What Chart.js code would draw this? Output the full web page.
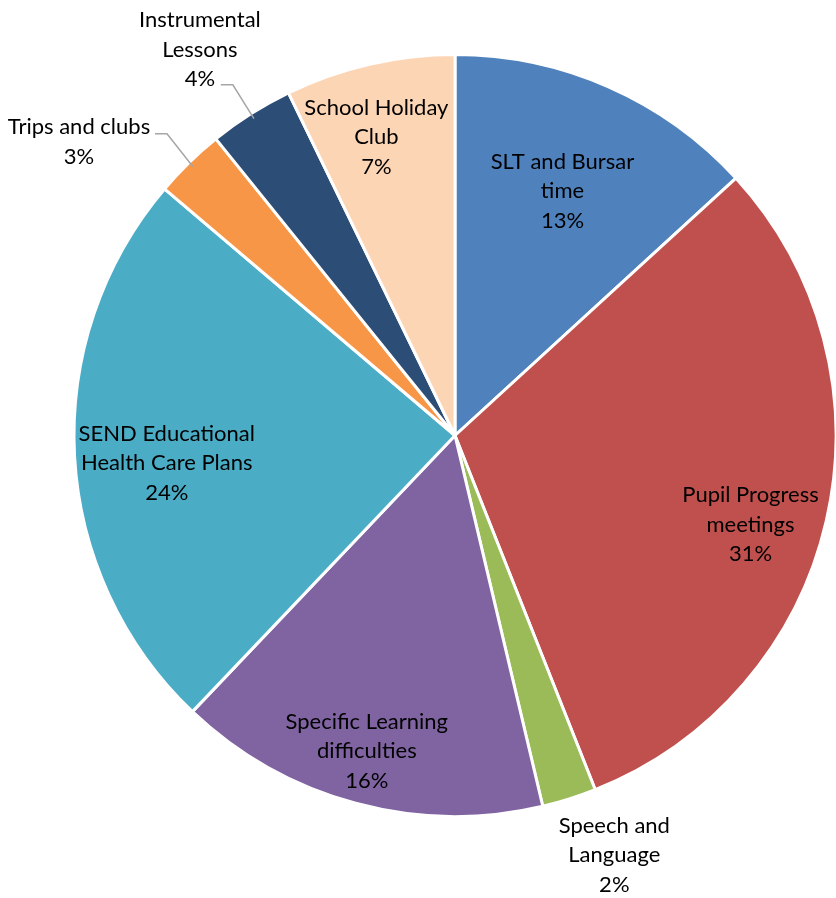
<!DOCTYPE html>
<html>
<head>
<meta charset="utf-8">
<script src="https://cdn.jsdelivr.net/npm/chart.js@4.4.0/dist/chart.umd.min.js"></script>
<style>
  html, body { margin: 0; padding: 0; background: #fff; }
  #wrap { width: 836px; height: 898px; }
</style>
</head>
<body>
<div id="wrap"><canvas id="pieChart"></canvas></div>
<script>
// categorias (quebradas em linhas como no original)
const categorias = [
  ['SLT and Bursar', 'time'],
  ['Pupil Progress', 'meetings'],
  ['Speech and', 'Language'],
  ['Specific Learning', 'difficulties'],
  ['SEND Educational', 'Health Care Plans'],
  ['Trips and clubs'],
  ['Instrumental', 'Lessons'],
  ['School Holiday', 'Club']
];
// percentuais
const valores = [13.2, 30.8, 2.3, 15.8, 24.1, 3.0, 3.6, 7.2];
const cores = ['#4F81BD', '#C0504D', '#9BBB59', '#8064A2', '#4BACC6', '#F79646', '#2C4D75', '#FCD5B5'];

// onde cada rótulo fica (r = fração do raio, ang = ajuste em graus)
const posRotulos = [
  { r: 0.70, ang: 0 },
  { r: 0.81, ang: 3.8 },
  { fora: true, dx: 45, dy: 56 },
  { r: 0.86, ang: 0.5 },
  { r: 0.76, ang: -2.4 },
  { fora: true, dx: -110, dy: -21, linha: [-22, -29, -34, -29] },
  { fora: true, dx: -51, dy: -64, linha: [-18, -29, -30, -29] },
  { r: 0.81, ang: -1.8 }
];

const total = valores.reduce((a, b) => a + b, 0);

const rotulosPlugin = {
  id: 'rotulos',
  afterDatasetsDraw(chart) {
    const ctx = chart.ctx;
    const arcs = chart.getDatasetMeta(0).data;
    ctx.save();
    ctx.font = '22px Lato';
    ctx.fillStyle = '#000';
    ctx.textAlign = 'center';
    ctx.textBaseline = 'middle';
    const lh = 29.5;

    arcs.forEach((arc, i) => {
      const p = posRotulos[i];
      const R = arc.outerRadius;
      const meio = (arc.startAngle + arc.endAngle) / 2;
      let cx, cy;
      if (p.fora) {
        const ex = arc.x + Math.cos(meio) * R;
        const ey = arc.y + Math.sin(meio) * R;
        cx = ex + p.dx;
        cy = ey + p.dy;
        if (p.linha) {
          ctx.beginPath();
          ctx.strokeStyle = '#A6A6A6';
          ctx.lineWidth = 1.5;
          ctx.moveTo(arc.x + Math.cos(meio) * R * 0.985, arc.y + Math.sin(meio) * R * 0.985);
          ctx.lineTo(ex + p.linha[0], ey + p.linha[1]);
          ctx.lineTo(ex + p.linha[2], ey + p.linha[3]);
          ctx.stroke();
        }
      } else {
        const a = meio + p.ang * Math.PI / 180;
        cx = arc.x + Math.cos(a) * R * p.r;
        cy = arc.y + Math.sin(a) * R * p.r;
      }
      const linhas = categorias[i].concat([Math.round(valores[i] / total * 100) + '%']);
      const y0 = cy - (linhas.length - 1) / 2 * lh;
      linhas.forEach((t, k) => ctx.fillText(t, cx, y0 + k * lh));
    });
    ctx.restore();
  }
};

const ctx = document.getElementById('pieChart').getContext('2d');
const chartInstance = new Chart(ctx, {
  type: 'pie',
  data: {
    labels: categorias,
    datasets: [{
      data: valores,
      backgroundColor: cores,
      borderColor: '#FFFFFF',
      borderWidth: 3
    }]
  },
  options: {
    responsive: true,
    maintainAspectRatio: false,
    animation: false,
    radius: 381,
    layout: { padding: { left: 74, right: 0, top: 40, bottom: 67 } },
    plugins: {
      legend: { display: false },
      tooltip: { enabled: false }
    }
  },
  plugins: [rotulosPlugin]
});
</script>
</body>
</html>
